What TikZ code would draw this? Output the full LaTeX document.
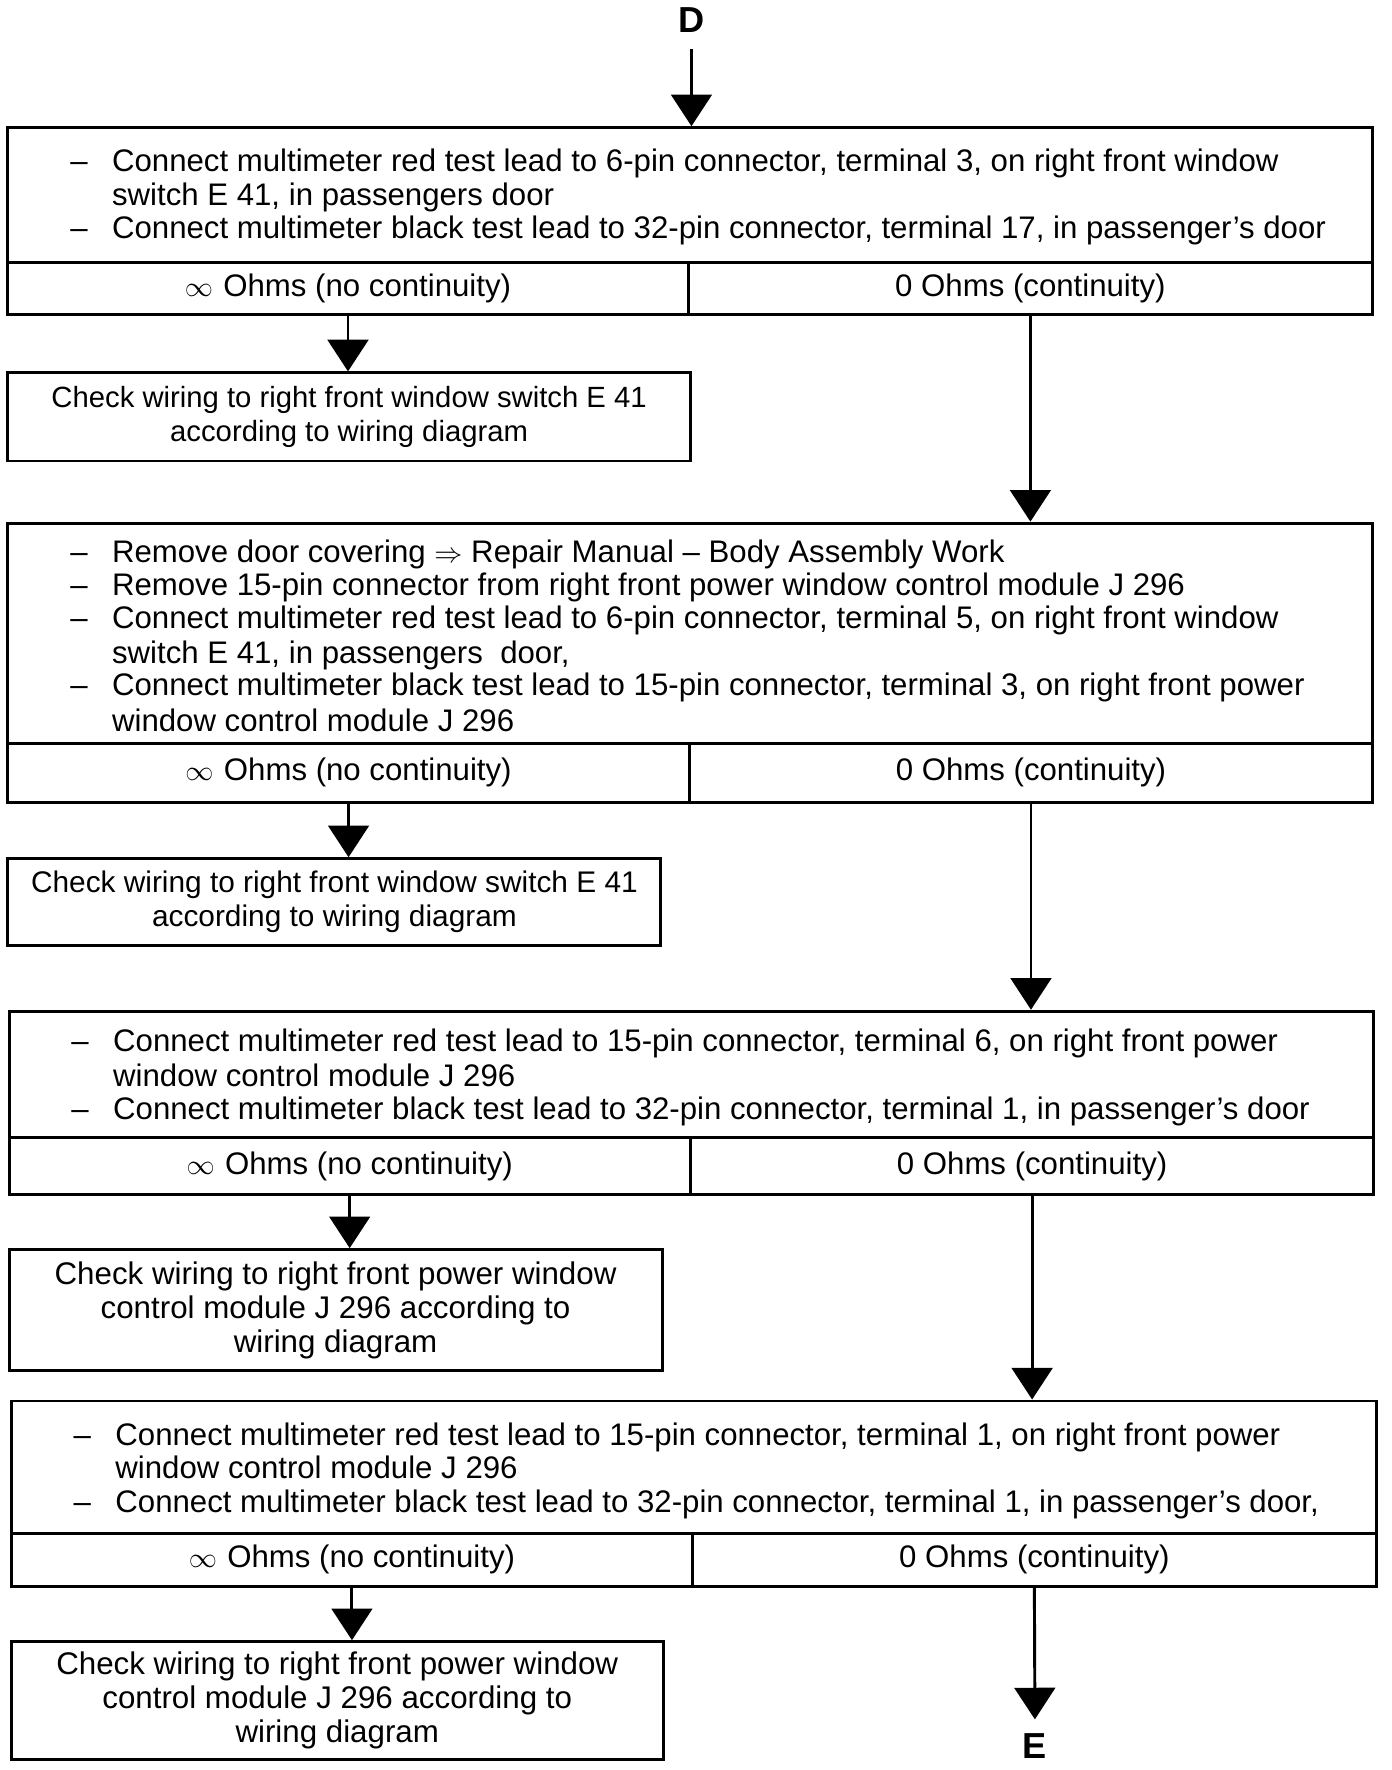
\documentclass[tikz,border=0pt]{standalone}
\usepackage{fontspec}
\setmainfont{Liberation Sans}
\usetikzlibrary{arrows.meta}
\tikzset{
  box/.style={draw, line width=2.6pt, inner sep=0pt, align=center, font=\fontsize{27.6}{30}\selectfont},
  ln/.style={anchor=base west, inner sep=0pt, font=\fontsize{27.6}{30}\selectfont},
  arr/.style={line width=2.6pt, -{Triangle[length=28pt,width=36pt]}},
  big/.style={font=\fontsize{32}{32}\selectfont\bfseries, inner sep=0pt}
}
\begin{document}
\begin{tikzpicture}[x=1pt,y=-1pt]
\useasboundingbox (0,0) rectangle (1232,1566.6);

% ---------- D ----------
\node[big] (D) at (612,18) {D};

% ---------- Step 1 ----------
\node[box, minimum width=1208pt, minimum height=119pt] (top1) at (611,172.5) {};
\node[box, minimum width=602pt, minimum height=46pt] (l1) at (308,255) {$\infty$\,\,Ohms (no continuity)};
\node[box, minimum width=606pt, minimum height=46pt] (r1) at (912,255) {0 Ohms (continuity)};
\node[ln] (a1d) at (62,152) {–};
\node[ln] (a1a) at (99,152) {Connect multimeter red test lead to 6-pin connector, terminal 3, on right front window};
\node[ln] (a1b) at (99,182) {switch E 41, in passengers door};
\node[ln] (a1e) at (62,211) {–};
\node[ln] (a1c) at (99,211) {Connect multimeter black test lead to 32-pin connector, terminal 17, in passenger’s door};
\node[box, minimum width=604pt, minimum height=78pt, font=\fontsize{25.9}{30}\selectfont] (c1) at (309,369) {Check wiring to right front window switch E 41\\according to wiring diagram};

% ---------- Step 2 ----------
\node[box, minimum width=1208pt, minimum height=195pt] (top2) at (611,560.5) {};
\node[box, minimum width=603pt, minimum height=52pt] (l2) at (308.5,684) {$\infty$\,\,Ohms (no continuity)};
\node[box, minimum width=605pt, minimum height=52pt] (r2) at (912.5,684) {0 Ohms (continuity)};
\node[ln] (a2d1) at (62,498) {–};
\node[ln] (a2a) at (99,498) {Remove door covering $\Rightarrow$ Repair Manual – Body Assembly Work};
\node[ln] (a2d2) at (62,527) {–};
\node[ln] (a2b) at (99,527) {Remove 15-pin connector from right front power window control module J 296};
\node[ln] (a2d3) at (62,556) {–};
\node[ln] (a2c) at (99,556) {Connect multimeter red test lead to 6-pin connector, terminal 5, on right front window};
\node[ln] (a2e) at (99,587) {switch E 41, in passengers\ \ door,};
\node[ln] (a2d4) at (62,616) {–};
\node[ln] (a2f) at (99,616) {Connect multimeter black test lead to 15-pin connector, terminal 3, on right front power};
\node[ln] (a2g) at (99,647) {window control module J 296};
\node[box, minimum width=578pt, minimum height=77pt, font=\fontsize{26.4}{30}\selectfont] (c2) at (296,798.5) {Check wiring to right front window switch E 41\\according to wiring diagram};

% ---------- Step 3 ----------
\node[box, minimum width=1208pt, minimum height=112pt] (top3) at (612,951) {};
\node[box, minimum width=603pt, minimum height=50pt] (l3) at (309.5,1032) {$\infty$\,\,Ohms (no continuity)};
\node[box, minimum width=605pt, minimum height=50pt] (r3) at (913.5,1032) {0 Ohms (continuity)};
\node[ln] (a3d1) at (63,931) {–};
\node[ln] (a3a) at (100,931) {Connect multimeter red test lead to 15-pin connector, terminal 6, on right front power};
\node[ln] (a3b) at (100,962) {window control module J 296};
\node[ln] (a3d2) at (63,991) {–};
\node[ln] (a3c) at (100,991) {Connect multimeter black test lead to 32-pin connector, terminal 1, in passenger’s door};
\node[box, minimum width=578pt, minimum height=107pt, font=\fontsize{27.7}{30}\selectfont] (c3) at (297,1159.5) {Check wiring to right front power window\\control module J 296 according to\\wiring diagram};

% ---------- Step 4 ----------
\node[box, minimum width=1208pt, minimum height=117pt] (top4) at (614,1298.5) {};
\node[box, minimum width=603pt, minimum height=47pt] (l4) at (311.5,1380.5) {$\infty$\,\,Ohms (no continuity)};
\node[box, minimum width=605pt, minimum height=47pt] (r4) at (915.5,1380.5) {0 Ohms (continuity)};
\node[ln] (a4d1) at (65,1279) {–};
\node[ln] (a4a) at (102,1279) {Connect multimeter red test lead to 15-pin connector, terminal 1, on right front power};
\node[ln] (a4b) at (102,1309) {window control module J 296};
\node[ln] (a4d2) at (65,1339) {–};
\node[ln] (a4c) at (102,1339) {Connect multimeter black test lead to 32-pin connector, terminal 1, in passenger’s door,};
\node[box, minimum width=577pt, minimum height=104pt, font=\fontsize{27.7}{30}\selectfont] (c4) at (298.5,1505) {Check wiring to right front power window\\control module J 296 according to\\wiring diagram};

% ---------- E ----------
\node[big] (E) at (916,1545) {E};

% ---------- Connectors ----------
\draw[arr] ([yshift=-14pt]D.south) -- (D.south |- top1.north);
\draw[arr] (l1.south) -- (l1.south |- c1.north);
\draw[arr] (r1.south) -- (r1.south |- top2.north);
\draw[arr] (l2.south) -- (l2.south |- c2.north);
\draw[arr] (r2.south) -- (r2.south |- top3.north);
\draw[arr] (l3.south) -- (l3.south |- c3.north);
\draw[arr] (r3.south) -- (r3.south |- top4.north);
\draw[arr] (l4.south) -- (l4.south |- c4.north);
\draw[arr] (r4.south) -- ([yshift=12pt]E.north);
\end{tikzpicture}
\end{document}
